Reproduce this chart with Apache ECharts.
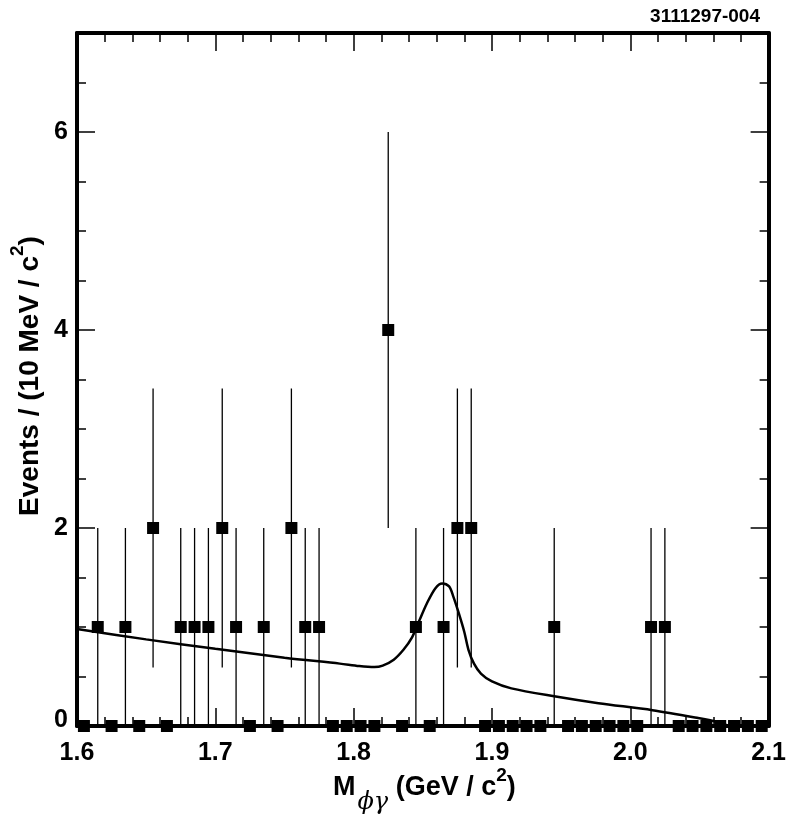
<!DOCTYPE html>
<html>
<head>
<meta charset="utf-8">
<title>M phi gamma</title>
<script src="https://cdn.jsdelivr.net/npm/echarts@6/dist/echarts.min.js"></script>
<style>
  html, body { margin: 0; padding: 0; background: #fff; }
  #chart { width: 789px; height: 830px; }
</style>
</head>
<body>
<div id="chart"></div>
<script>
// bin centres (10 MeV bins) and counts
var binX = [1.605, 1.615, 1.625, 1.635, 1.645, 1.655, 1.665, 1.675, 1.685, 1.695,
            1.705, 1.715, 1.725, 1.735, 1.745, 1.755, 1.765, 1.775, 1.785, 1.795,
            1.805, 1.815, 1.825, 1.835, 1.845, 1.855, 1.865, 1.875, 1.885, 1.895,
            1.905, 1.915, 1.925, 1.935, 1.945, 1.955, 1.965, 1.975, 1.985, 1.995,
            2.005, 2.015, 2.025, 2.035, 2.045, 2.055, 2.065, 2.075, 2.085, 2.095];
var counts = [0, 1, 0, 1, 0, 2, 0, 1, 1, 1,
              2, 1, 0, 1, 0, 2, 1, 1, 0, 0,
              0, 0, 4, 0, 1, 0, 1, 2, 2, 0,
              0, 0, 0, 0, 1, 0, 0, 0, 0, 0,
              0, 1, 1, 0, 0, 0, 0, 0, 0, 0];
// half length of the error bars
var errs = [0, 1, 0, 1, 0, 1.41, 0, 1, 1, 1,
            1.41, 1, 0, 1, 0, 1.41, 1, 1, 0, 0,
            0, 0, 2, 0, 1, 0, 1, 1.41, 1.41, 0,
            0, 0, 0, 0, 1, 0, 0, 0, 0, 0,
            0, 1, 1, 0, 0, 0, 0, 0, 0, 0];

// fit curve
var fitX = [1.600, 1.650, 1.700, 1.750, 1.790, 1.804, 1.815, 1.821, 1.829, 1.836,
            1.842, 1.847, 1.853, 1.859, 1.864, 1.869, 1.872, 1.876, 1.880, 1.883,
            1.887, 1.892, 1.900, 1.914, 1.945, 1.977, 2.016, 2.049, 2.063, 2.073, 2.100];
var fitY = [0.98, 0.875, 0.78, 0.69, 0.63, 0.605, 0.595, 0.61, 0.67, 0.77,
            0.89, 1.05, 1.24, 1.39, 1.44, 1.41, 1.31, 1.14, 0.95, 0.77,
            0.63, 0.53, 0.45, 0.38, 0.30, 0.23, 0.16, 0.08, 0.04, 0.0, 0.0];

var xTicks = [1.6, 1.7, 1.8, 1.9, 2.0, 2.1];
var yLabels = [0, 2, 4, 6];

var FONT = '"Liberation Sans", Arial, sans-serif';

var points = [], bars = [], fit = [];
for (var i = 0; i < binX.length; i++) {
  points.push([binX[i], counts[i]]);
  if (errs[i] > 0) bars.push([binX[i], counts[i] - errs[i], counts[i] + errs[i]]);
}
for (var j = 0; j < fitX.length; j++) fit.push([fitX[j], fitY[j]]);

var chart = echarts.init(document.getElementById('chart'));

function xAx(pos, labels) {
  return {
    type: 'value', position: pos, min: xTicks[0], max: xTicks[xTicks.length - 1], interval: 0.1,
    axisLine: { show: true, onZero: false, lineStyle: { color: '#000', width: 4 } },
    axisTick: { show: true, inside: true, length: 18, lineStyle: { color: '#000', width: 1.5 } },
    minorTick: { show: true, splitNumber: 5, length: 9, lineStyle: { color: '#000', width: 1.5 } },
    splitLine: { show: false },
    axisLabel: {
      show: labels, margin: 15, color: '#000', fontFamily: FONT, fontWeight: 'bold', fontSize: 25,
      formatter: function (v) { return v.toFixed(1); }
    }
  };
}
function yAx(pos, interval, len, line, labels) {
  return {
    type: 'value', position: pos, min: 0, max: 7, interval: interval,
    axisLine: { show: line, onZero: false, lineStyle: { color: '#000', width: 4 } },
    axisTick: { show: true, inside: true, length: len, lineStyle: { color: '#000', width: 1.5 } },
    splitLine: { show: false },
    axisLabel: {
      show: labels, margin: 9, color: '#000', fontFamily: FONT, fontWeight: 'bold', fontSize: 25,
      formatter: function (v) {
        if (yLabels.indexOf(v) < 0) return '';
        return v === 0 ? '{z|0}' : String(v);
      },
      rich: { z: { fontFamily: FONT, fontWeight: 'bold', fontSize: 25, padding: [0, 0, 12, 0] } }
    }
  };
}

chart.setOption({
  animation: false,
  backgroundColor: '#fff',
  grid: { left: 77, top: 33, width: 693, height: 693, containLabel: false },
  xAxis: [xAx('bottom', true), xAx('top', false)],
  yAxis: [
    yAx('left', 0.5, 9, true, true),
    yAx('left', 2, 18, false, false),
    yAx('right', 0.5, 9, true, false),
    yAx('right', 2, 18, false, false)
  ],
  graphic: [
    {
      type: 'text', right: 29, top: 7,
      style: { text: '3111297-004', fill: '#000', font: 'bold 19px ' + FONT }
    },
    {
      type: 'text', x: 333, y: 788,
      style: {
        text: '{m|M}{s|ϕγ}{t| (GeV / c}{p|2}{t|)}',
        textAlign: 'left', textVerticalAlign: 'middle', fill: '#000',
        rich: {
          m: { fontFamily: FONT, fontWeight: 'bold', fontSize: 27, lineHeight: 32 },
          s: { fontFamily: '"DejaVu Serif", serif', fontStyle: 'italic', fontSize: 24, lineHeight: 30, padding: [30, 0, 0, 2] },
          t: { fontFamily: FONT, fontWeight: 'bold', fontSize: 27, lineHeight: 32 },
          p: { fontFamily: FONT, fontWeight: 'bold', fontSize: 19, lineHeight: 20, padding: [0, 0, 24, 0] }
        }
      }
    },
    {
      type: 'text', x: 30, y: 376, rotation: Math.PI / 2,
      style: {
        text: '{t|Events / (10 MeV / c}{p|2}{t|)}',
        textAlign: 'center', textVerticalAlign: 'middle', fill: '#000',
        rich: {
          t: { fontFamily: FONT, fontWeight: 'bold', fontSize: 28, lineHeight: 34 },
          p: { fontFamily: FONT, fontWeight: 'bold', fontSize: 19, lineHeight: 20, padding: [0, 0, 24, 0] }
        }
      }
    }
  ],
  series: [
    {
      type: 'custom',
      renderItem: function (params, api) {
        var a = api.coord([api.value(0), api.value(1)]);
        var b = api.coord([api.value(0), api.value(2)]);
        return {
          type: 'line',
          shape: { x1: a[0], y1: a[1], x2: b[0], y2: b[1] },
          style: { stroke: '#000', lineWidth: 1.3 }
        };
      },
      encode: { x: 0, y: [1, 2] },
      data: bars,
      z: 3
    },
    {
      type: 'line',
      data: fit,
      showSymbol: false,
      smooth: 0.3,
      lineStyle: { color: '#000', width: 2.5 },
      z: 4
    },
    {
      type: 'scatter',
      data: points,
      symbol: 'rect',
      symbolSize: 12,
      itemStyle: { color: '#000', opacity: 1 },
      clip: false,
      z: 5
    }
  ]
});
</script>
</body>
</html>
